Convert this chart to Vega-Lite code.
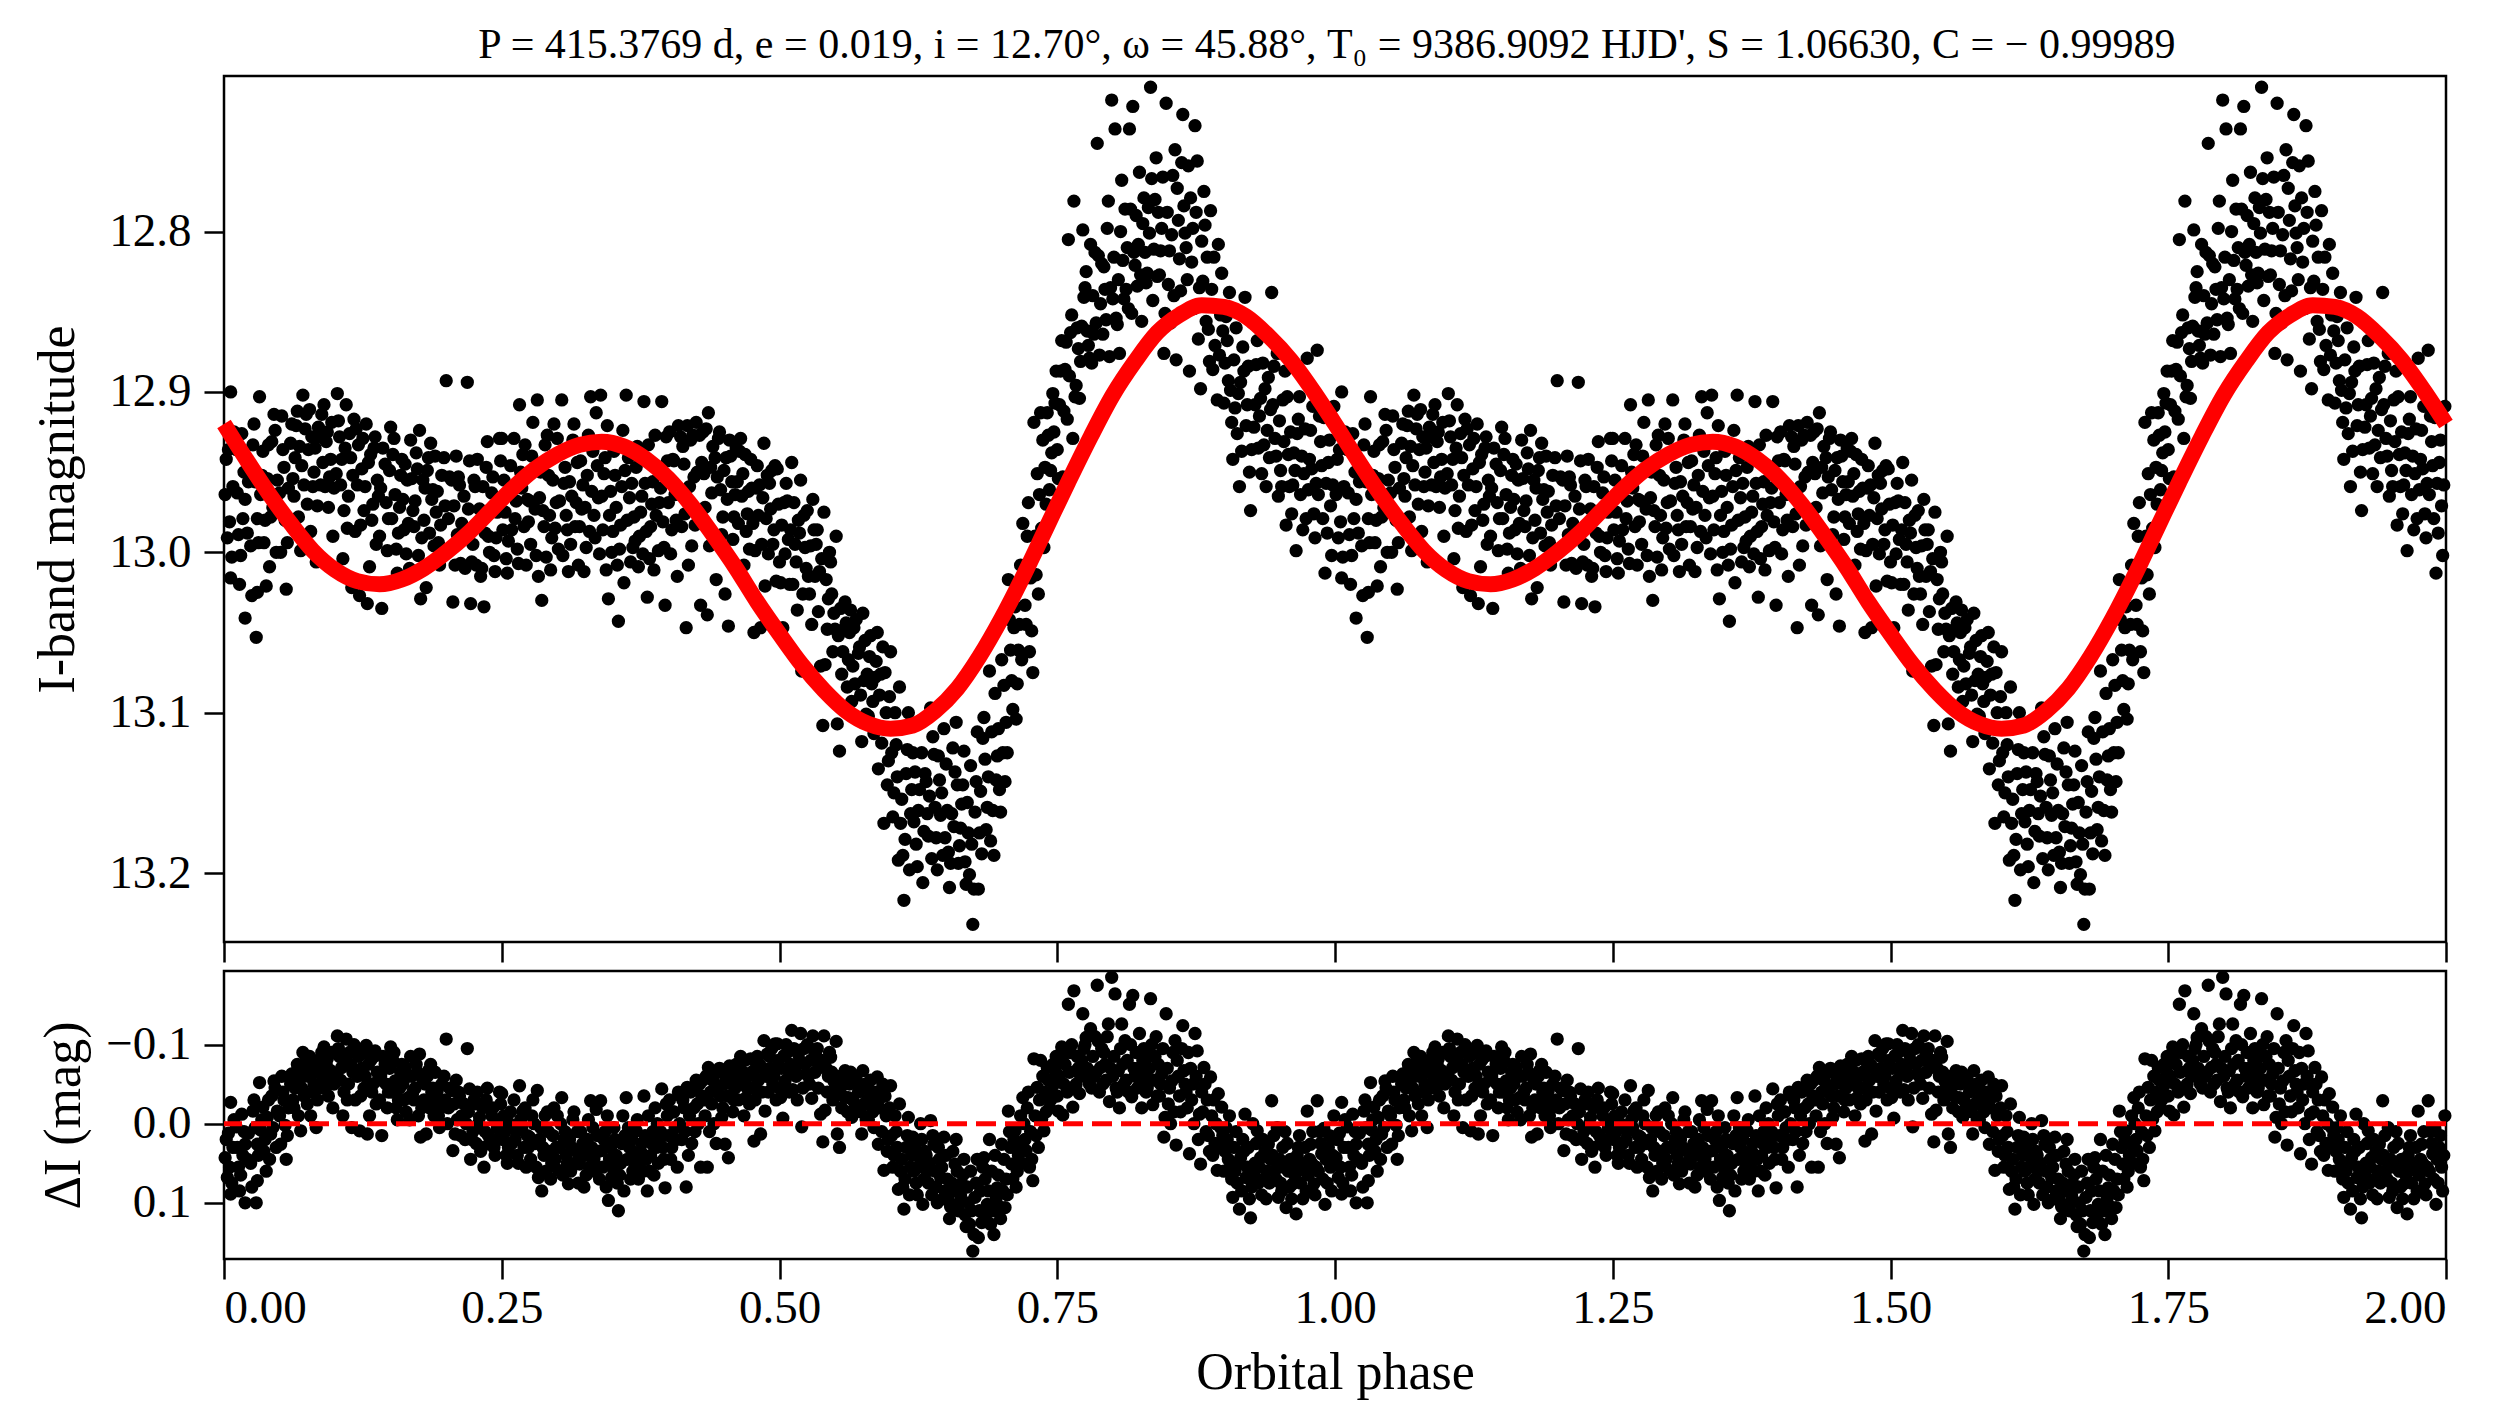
{
"$schema":"https://vega.github.io/schema/vega-lite/v6.json",
"background":"white",
"padding":{"left":30,"top":23,"right":5,"bottom":5},
"title":{"text":"P = 415.3769 d, e = 0.019, i = 12.70°, ω = 45.88°, T₀ = 9386.9092 HJD', S = 1.06630, C = − 0.99989","font":"Liberation Serif","fontSize":42,"fontWeight":"normal","color":"black","anchor":"middle","baseline":"alphabetic","offset":-25,"dx":72},
"config":{"font":"Liberation Serif","view":{"stroke":"black","strokeWidth":2.5},
"axis":{"domain":false,"grid":false,"ticks":true,"tickColor":"black","tickWidth":2.5,"tickSize":20,"labelFont":"Liberation Serif","labelFontSize":47,"labelColor":"black","labelPadding":13,"titleFont":"Liberation Serif","titleFontSize":52,"titleFontWeight":"normal","titleColor":"black"}},
"datasets":{
"model":[{"p":0,"m":12.920},{"p":0.02,"m":12.942},{"p":0.04,"m":12.963},{"p":0.06,"m":12.982},{"p":0.08,"m":12.999},{"p":0.10,"m":13.011},{"p":0.12,"m":13.018},{"p":0.14,"m":13.020},{"p":0.16,"m":13.017},{"p":0.18,"m":13.010},{"p":0.20,"m":13.000},{"p":0.22,"m":12.988},{"p":0.24,"m":12.974},{"p":0.26,"m":12.960},{"p":0.28,"m":12.948},{"p":0.30,"m":12.939},{"p":0.32,"m":12.933},{"p":0.34,"m":12.931},{"p":0.36,"m":12.934},{"p":0.38,"m":12.942},{"p":0.40,"m":12.954},{"p":0.42,"m":12.970},{"p":0.44,"m":12.989},{"p":0.46,"m":13.009},{"p":0.48,"m":13.031},{"p":0.50,"m":13.051},{"p":0.52,"m":13.070},{"p":0.54,"m":13.086},{"p":0.56,"m":13.099},{"p":0.58,"m":13.107},{"p":0.60,"m":13.110},{"p":0.62,"m":13.108},{"p":0.64,"m":13.099},{"p":0.66,"m":13.085},{"p":0.68,"m":13.065},{"p":0.70,"m":13.041},{"p":0.72,"m":13.014},{"p":0.74,"m":12.985},{"p":0.76,"m":12.956},{"p":0.78,"m":12.928},{"p":0.80,"m":12.902},{"p":0.82,"m":12.881},{"p":0.84,"m":12.863},{"p":0.86,"m":12.852},{"p":0.88,"m":12.846},{"p":0.90,"m":12.847},{"p":0.92,"m":12.853},{"p":0.94,"m":12.865},{"p":0.96,"m":12.880},{"p":0.98,"m":12.899},{"p":1.00,"m":12.920},{"p":1.02,"m":12.942},{"p":1.04,"m":12.963},{"p":1.06,"m":12.982},{"p":1.08,"m":12.999},{"p":1.10,"m":13.011},{"p":1.12,"m":13.018},{"p":1.14,"m":13.020},{"p":1.16,"m":13.017},{"p":1.18,"m":13.010},{"p":1.20,"m":13.000},{"p":1.22,"m":12.988},{"p":1.24,"m":12.974},{"p":1.26,"m":12.960},{"p":1.28,"m":12.948},{"p":1.30,"m":12.939},{"p":1.32,"m":12.933},{"p":1.34,"m":12.931},{"p":1.36,"m":12.934},{"p":1.38,"m":12.942},{"p":1.40,"m":12.954},{"p":1.42,"m":12.970},{"p":1.44,"m":12.989},{"p":1.46,"m":13.009},{"p":1.48,"m":13.031},{"p":1.50,"m":13.051},{"p":1.52,"m":13.070},{"p":1.54,"m":13.086},{"p":1.56,"m":13.099},{"p":1.58,"m":13.107},{"p":1.60,"m":13.110},{"p":1.62,"m":13.108},{"p":1.64,"m":13.099},{"p":1.66,"m":13.085},{"p":1.68,"m":13.065},{"p":1.70,"m":13.041},{"p":1.72,"m":13.014},{"p":1.74,"m":12.985},{"p":1.76,"m":12.956},{"p":1.78,"m":12.928},{"p":1.80,"m":12.902},{"p":1.82,"m":12.881},{"p":1.84,"m":12.863},{"p":1.86,"m":12.852},{"p":1.88,"m":12.846},{"p":1.90,"m":12.847},{"p":1.92,"m":12.853},{"p":1.94,"m":12.865},{"p":1.96,"m":12.880},{"p":1.98,"m":12.899},{"p":2.00,"m":12.920}],
"pts":[
{"p":0.001,"q":1.001,"m":12.964,"r":0.043},{"p":0.003,"q":1.003,"m":12.991,"r":0.068},{"p":0.006,"q":1.006,"m":12.900,"r":-0.027},{"p":0.006,"q":1.006,"m":13.016,"r":0.089},{"p":0.004,"q":1.004,"m":12.936,"r":0.012},{"p":0.008,"q":1.008,"m":12.959,"r":0.030},{"p":0.009,"q":1.009,"m":12.925,"r":-0.005},
{"p":0.013,"q":1.013,"m":12.989,"r":0.055},{"p":0.014,"q":1.014,"m":13.020,"r":0.085},{"p":0.019,"q":1.019,"m":13.041,"r":0.100},{"p":0.019,"q":1.019,"m":12.967,"r":0.026},{"p":0.011,"q":1.011,"m":12.936,"r":0.004},{"p":0.016,"q":1.016,"m":12.926,"r":-0.012},{"p":0.017,"q":1.017,"m":12.979,"r":0.040},
{"p":0.026,"q":1.026,"m":12.933,"r":-0.016},{"p":0.029,"q":1.029,"m":13.053,"r":0.100},{"p":0.030,"q":1.030,"m":12.979,"r":0.026},{"p":0.030,"q":1.030,"m":13.025,"r":0.072},{"p":0.022,"q":1.022,"m":12.956,"r":0.012},{"p":0.024,"q":1.024,"m":12.996,"r":0.050},{"p":0.027,"q":1.027,"m":12.920,"r":-0.030},
{"p":0.035,"q":1.035,"m":12.937,"r":-0.021},{"p":0.032,"q":1.032,"m":12.903,"r":-0.052},{"p":0.038,"q":1.038,"m":13.021,"r":0.060},{"p":0.033,"q":1.033,"m":12.964,"r":0.008},{"p":0.036,"q":1.036,"m":12.994,"r":0.035},{"p":0.039,"q":1.039,"m":12.954,"r":-0.008},
{"p":0.045,"q":1.045,"m":12.914,"r":-0.054},{"p":0.042,"q":1.042,"m":12.978,"r":0.013},{"p":0.048,"q":1.048,"m":12.955,"r":-0.016},{"p":0.043,"q":1.043,"m":12.931,"r":-0.035},{"p":0.047,"q":1.047,"m":13.000,"r":0.030},{"p":0.041,"q":1.041,"m":13.009,"r":0.045},
{"p":0.051,"q":1.051,"m":13.000,"r":0.026},{"p":0.056,"q":1.056,"m":13.023,"r":0.045},{"p":0.053,"q":1.053,"m":12.936,"r":-0.040},{"p":0.058,"q":1.058,"m":12.960,"r":-0.020},{"p":0.055,"q":1.055,"m":12.980,"r":0.002},{"p":0.052,"q":1.052,"m":12.915,"r":-0.060},
{"p":0.061,"q":1.061,"m":12.920,"r":-0.063},{"p":0.069,"q":1.069,"m":12.999,"r":0.009},{"p":0.064,"q":1.064,"m":12.941,"r":-0.045},{"p":0.066,"q":1.066,"m":12.912,"r":-0.075},{"p":0.063,"q":1.063,"m":12.965,"r":-0.020},{"p":0.068,"q":1.068,"m":12.934,"r":-0.055},
{"p":0.074,"q":1.074,"m":12.914,"r":-0.080},{"p":0.072,"q":1.072,"m":12.958,"r":-0.035},{"p":0.076,"q":1.076,"m":12.936,"r":-0.060},{"p":0.078,"q":1.078,"m":12.987,"r":-0.010},{"p":0.071,"q":1.071,"m":12.902,"r":-0.090},{"p":0.079,"q":1.079,"m":12.928,"r":-0.070},
{"p":0.083,"q":1.083,"m":13.006,"r":0.005},{"p":0.086,"q":1.086,"m":12.928,"r":-0.075},{"p":0.081,"q":1.081,"m":12.950,"r":-0.050},{"p":0.088,"q":1.088,"m":12.914,"r":-0.090},{"p":0.084,"q":1.084,"m":12.971,"r":-0.030},{"p":0.089,"q":1.089,"m":12.944,"r":-0.060},
{"p":0.090,"q":1.090,"m":12.908,"r":-0.097},{"p":0.091,"q":1.091,"m":12.959,"r":-0.046},{"p":0.096,"q":1.096,"m":12.942,"r":-0.067},{"p":0.093,"q":1.093,"m":12.925,"r":-0.082},{"p":0.098,"q":1.098,"m":12.990,"r":-0.020},{"p":0.095,"q":1.095,"m":12.953,"r":-0.055},
{"p":0.102,"q":1.102,"m":12.901,"r":-0.111},{"p":0.106,"q":1.106,"m":12.942,"r":-0.071},{"p":0.110,"q":1.110,"m":12.908,"r":-0.107},{"p":0.104,"q":1.104,"m":12.928,"r":-0.085},{"p":0.108,"q":1.108,"m":12.974,"r":-0.040},{"p":0.101,"q":1.101,"m":12.951,"r":-0.060},{"p":0.107,"q":1.107,"m":13.004,"r":-0.010},
{"p":0.113,"q":1.113,"m":12.926,"r":-0.090},{"p":0.116,"q":1.116,"m":12.952,"r":-0.065},{"p":0.118,"q":1.118,"m":12.987,"r":-0.030},{"p":0.112,"q":1.112,"m":12.965,"r":-0.050},{"p":0.119,"q":1.119,"m":12.923,"r":-0.095},{"p":0.115,"q":1.115,"m":13.022,"r":0.005},
{"p":0.122,"q":1.122,"m":13.027,"r":0.009},{"p":0.128,"q":1.128,"m":12.920,"r":-0.099},{"p":0.129,"q":1.129,"m":13.032,"r":0.013},{"p":0.124,"q":1.124,"m":12.948,"r":-0.070},{"p":0.126,"q":1.126,"m":12.974,"r":-0.045},{"p":0.121,"q":1.121,"m":12.933,"r":-0.085},
{"p":0.134,"q":1.134,"m":12.970,"r":-0.050},{"p":0.132,"q":1.132,"m":12.939,"r":-0.080},{"p":0.137,"q":1.137,"m":12.995,"r":-0.025},{"p":0.138,"q":1.138,"m":12.955,"r":-0.065},{"p":0.131,"q":1.131,"m":13.009,"r":-0.010},{"p":0.136,"q":1.136,"m":12.928,"r":-0.092},
{"p":0.142,"q":1.142,"m":13.035,"r":0.015},{"p":0.145,"q":1.145,"m":12.945,"r":-0.075},{"p":0.148,"q":1.148,"m":12.979,"r":-0.040},{"p":0.141,"q":1.141,"m":12.960,"r":-0.060},{"p":0.147,"q":1.147,"m":12.999,"r":-0.020},{"p":0.150,"q":1.150,"m":12.922,"r":-0.097},
{"p":0.154,"q":1.154,"m":12.964,"r":-0.054},{"p":0.152,"q":1.152,"m":12.939,"r":-0.080},{"p":0.157,"q":1.157,"m":12.988,"r":-0.030},{"p":0.159,"q":1.159,"m":12.952,"r":-0.065},{"p":0.156,"q":1.156,"m":13.013,"r":-0.005},
{"p":0.163,"q":1.163,"m":12.945,"r":-0.071},{"p":0.166,"q":1.166,"m":12.982,"r":-0.033},{"p":0.161,"q":1.161,"m":12.967,"r":-0.050},{"p":0.168,"q":1.168,"m":12.930,"r":-0.085},{"p":0.164,"q":1.164,"m":13.001,"r":-0.015},{"p":0.169,"q":1.169,"m":12.954,"r":-0.060},
{"p":0.176,"q":1.176,"m":12.924,"r":-0.088},{"p":0.177,"q":1.177,"m":13.029,"r":0.017},{"p":0.172,"q":1.172,"m":12.968,"r":-0.045},{"p":0.174,"q":1.174,"m":12.948,"r":-0.065},{"p":0.178,"q":1.178,"m":12.991,"r":-0.020},{"p":0.171,"q":1.171,"m":12.984,"r":-0.030},
{"p":0.182,"q":1.182,"m":13.022,"r":0.013},{"p":0.184,"q":1.184,"m":12.941,"r":-0.067},{"p":0.187,"q":1.187,"m":12.967,"r":-0.040},{"p":0.189,"q":1.189,"m":12.996,"r":-0.010},{"p":0.181,"q":1.181,"m":12.960,"r":-0.050},{"p":0.186,"q":1.186,"m":12.932,"r":-0.075},
{"p":0.192,"q":1.192,"m":12.962,"r":-0.042},{"p":0.195,"q":1.195,"m":12.983,"r":-0.020},{"p":0.198,"q":1.198,"m":12.941,"r":-0.060},{"p":0.194,"q":1.194,"m":13.008,"r":0.005},{"p":0.191,"q":1.191,"m":12.975,"r":-0.030},
{"p":0.200,"q":1.200,"m":12.893,"r":-0.107},{"p":0.205,"q":1.205,"m":12.955,"r":-0.042},{"p":0.206,"q":1.206,"m":13.031,"r":0.034},{"p":0.208,"q":1.208,"m":13.008,"r":0.013},{"p":0.202,"q":1.202,"m":12.979,"r":-0.020},{"p":0.209,"q":1.209,"m":12.940,"r":-0.055},
{"p":0.219,"q":1.219,"m":12.894,"r":-0.095},{"p":0.221,"q":1.221,"m":12.943,"r":-0.044},{"p":0.214,"q":1.214,"m":12.982,"r":-0.010},{"p":0.217,"q":1.217,"m":13.010,"r":0.020},{"p":0.212,"q":1.212,"m":12.958,"r":-0.035},{"p":0.218,"q":1.218,"m":12.989,"r":0.000},
{"p":0.222,"q":1.222,"m":13.032,"r":0.045},{"p":0.226,"q":1.226,"m":12.959,"r":-0.025},{"p":0.224,"q":1.224,"m":12.995,"r":0.010},{"p":0.228,"q":1.228,"m":12.942,"r":-0.040},{"p":0.227,"q":1.227,"m":13.008,"r":0.025},
{"p":0.234,"q":1.234,"m":13.034,"r":0.055},{"p":0.230,"q":1.230,"m":12.973,"r":-0.008},{"p":0.236,"q":1.236,"m":12.947,"r":-0.030},{"p":0.238,"q":1.238,"m":12.990,"r":0.015},{"p":0.232,"q":1.232,"m":13.010,"r":0.030},
{"p":0.242,"q":1.242,"m":12.953,"r":-0.020},{"p":0.245,"q":1.245,"m":12.991,"r":0.020},{"p":0.248,"q":1.248,"m":12.929,"r":-0.040},{"p":0.244,"q":1.244,"m":13.012,"r":0.040},{"p":0.247,"q":1.247,"m":12.970,"r":0.000},
{"p":0.250,"q":1.250,"m":12.929,"r":-0.038},{"p":0.253,"q":1.253,"m":12.975,"r":0.010},{"p":0.256,"q":1.256,"m":12.993,"r":0.030},{"p":0.258,"q":1.258,"m":12.946,"r":-0.015},{"p":0.255,"q":1.255,"m":13.013,"r":0.050},
{"p":0.266,"q":1.266,"m":12.908,"r":-0.048},{"p":0.269,"q":1.269,"m":12.939,"r":-0.016},{"p":0.262,"q":1.262,"m":12.979,"r":0.020},{"p":0.264,"q":1.264,"m":12.998,"r":0.040},{"p":0.268,"q":1.268,"m":12.960,"r":0.005},
{"p":0.275,"q":1.275,"m":12.968,"r":0.017},{"p":0.272,"q":1.272,"m":13.008,"r":0.055},{"p":0.278,"q":1.278,"m":12.919,"r":-0.030},{"p":0.274,"q":1.274,"m":12.981,"r":0.030},{"p":0.279,"q":1.279,"m":12.949,"r":0.000},
{"p":0.282,"q":1.282,"m":12.905,"r":-0.042},{"p":0.283,"q":1.283,"m":13.015,"r":0.068},{"p":0.286,"q":1.286,"m":13.030,"r":0.085},{"p":0.284,"q":1.284,"m":12.966,"r":0.020},{"p":0.288,"q":1.288,"m":12.984,"r":0.040},{"p":0.289,"q":1.289,"m":12.933,"r":-0.010},
{"p":0.292,"q":1.292,"m":12.952,"r":0.010},{"p":0.295,"q":1.295,"m":12.991,"r":0.050},{"p":0.297,"q":1.297,"m":12.920,"r":-0.020},{"p":0.299,"q":1.299,"m":12.969,"r":0.030},
{"p":0.301,"q":1.301,"m":12.998,"r":0.059},{"p":0.304,"q":1.304,"m":12.905,"r":-0.033},{"p":0.306,"q":1.306,"m":12.957,"r":0.020},{"p":0.308,"q":1.308,"m":12.977,"r":0.040},{"p":0.303,"q":1.303,"m":12.938,"r":0.000},
{"p":0.310,"q":1.310,"m":13.012,"r":0.076},{"p":0.313,"q":1.313,"m":12.965,"r":0.030},{"p":0.316,"q":1.316,"m":12.984,"r":0.050},{"p":0.318,"q":1.318,"m":12.944,"r":0.010},{"p":0.315,"q":1.315,"m":12.920,"r":-0.015},
{"p":0.320,"q":1.320,"m":12.984,"r":0.051},{"p":0.323,"q":1.323,"m":12.958,"r":0.025},{"p":0.326,"q":1.326,"m":12.997,"r":0.065},{"p":0.328,"q":1.328,"m":12.927,"r":-0.005},{"p":0.325,"q":1.325,"m":12.972,"r":0.040},
{"p":0.330,"q":1.330,"m":12.903,"r":-0.029},{"p":0.333,"q":1.333,"m":12.977,"r":0.045},{"p":0.336,"q":1.336,"m":12.946,"r":0.015},{"p":0.338,"q":1.338,"m":13.001,"r":0.070},{"p":0.335,"q":1.335,"m":12.913,"r":-0.018},
{"p":0.339,"q":1.339,"m":12.902,"r":-0.029},{"p":0.340,"q":1.340,"m":12.965,"r":0.034},{"p":0.346,"q":1.346,"m":13.029,"r":0.097},{"p":0.349,"q":1.349,"m":13.000,"r":0.068},{"p":0.343,"q":1.343,"m":12.941,"r":0.010},{"p":0.347,"q":1.347,"m":12.977,"r":0.045},
{"p":0.355,"q":1.355,"m":13.043,"r":0.110},{"p":0.352,"q":1.352,"m":12.952,"r":0.020},{"p":0.357,"q":1.357,"m":12.983,"r":0.050},{"p":0.359,"q":1.359,"m":12.924,"r":-0.010},{"p":0.354,"q":1.354,"m":13.008,"r":0.075},
{"p":0.362,"q":1.362,"m":12.902,"r":-0.033},{"p":0.365,"q":1.365,"m":12.966,"r":0.030},{"p":0.368,"q":1.368,"m":12.997,"r":0.060},{"p":0.364,"q":1.364,"m":12.941,"r":0.005},{"p":0.369,"q":1.369,"m":12.978,"r":0.040},
{"p":0.371,"q":1.371,"m":12.947,"r":0.009},{"p":0.378,"q":1.378,"m":12.906,"r":-0.035},{"p":0.374,"q":1.374,"m":12.990,"r":0.050},{"p":0.376,"q":1.376,"m":12.965,"r":0.025},{"p":0.373,"q":1.373,"m":13.009,"r":0.070},
{"p":0.381,"q":1.381,"m":13.028,"r":0.085},{"p":0.384,"q":1.384,"m":12.984,"r":0.040},{"p":0.386,"q":1.386,"m":12.956,"r":0.010},{"p":0.388,"q":1.388,"m":12.927,"r":-0.020},{"p":0.383,"q":1.383,"m":13.004,"r":0.060},
{"p":0.394,"q":1.394,"m":12.906,"r":-0.044},{"p":0.397,"q":1.397,"m":13.033,"r":0.081},{"p":0.392,"q":1.392,"m":12.969,"r":0.020},{"p":0.396,"q":1.396,"m":12.997,"r":0.045},{"p":0.399,"q":1.399,"m":12.943,"r":-0.010},
{"p":0.403,"q":1.403,"m":12.986,"r":0.030},{"p":0.401,"q":1.401,"m":12.925,"r":-0.030},{"p":0.406,"q":1.406,"m":12.964,"r":0.005},{"p":0.408,"q":1.408,"m":13.015,"r":0.055},{"p":0.405,"q":1.405,"m":12.943,"r":-0.015},
{"p":0.416,"q":1.416,"m":13.047,"r":0.080},{"p":0.417,"q":1.417,"m":12.921,"r":-0.046},{"p":0.412,"q":1.412,"m":12.984,"r":0.020},{"p":0.414,"q":1.414,"m":12.945,"r":-0.020},{"p":0.418,"q":1.418,"m":13.008,"r":0.040},{"p":0.411,"q":1.411,"m":12.928,"r":-0.035},
{"p":0.426,"q":1.426,"m":12.950,"r":-0.025},{"p":0.429,"q":1.429,"m":13.033,"r":0.055},{"p":0.422,"q":1.422,"m":12.927,"r":-0.045},{"p":0.424,"q":1.424,"m":12.983,"r":0.010},{"p":0.428,"q":1.428,"m":12.927,"r":-0.050},
{"p":0.435,"q":1.435,"m":13.039,"r":0.055},{"p":0.436,"q":1.436,"m":12.913,"r":-0.071},{"p":0.432,"q":1.432,"m":12.951,"r":-0.030},{"p":0.438,"q":1.438,"m":12.947,"r":-0.040},{"p":0.437,"q":1.437,"m":12.996,"r":0.010},{"p":0.431,"q":1.431,"m":12.925,"r":-0.055},
{"p":0.448,"q":1.448,"m":12.989,"r":-0.008},{"p":0.442,"q":1.442,"m":12.941,"r":-0.050},{"p":0.445,"q":1.445,"m":12.929,"r":-0.065},{"p":0.447,"q":1.447,"m":12.961,"r":-0.035},{"p":0.443,"q":1.443,"m":13.017,"r":0.025},
{"p":0.454,"q":1.454,"m":13.046,"r":0.043},{"p":0.451,"q":1.451,"m":13.026,"r":0.026},{"p":0.455,"q":1.455,"m":12.930,"r":-0.073},{"p":0.457,"q":1.457,"m":12.956,"r":-0.050},{"p":0.459,"q":1.459,"m":12.978,"r":-0.030},{"p":0.452,"q":1.452,"m":12.941,"r":-0.060},
{"p":0.464,"q":1.464,"m":12.937,"r":-0.076},{"p":0.470,"q":1.470,"m":12.987,"r":-0.033},{"p":0.462,"q":1.462,"m":12.956,"r":-0.055},{"p":0.467,"q":1.467,"m":12.951,"r":-0.065},{"p":0.468,"q":1.468,"m":13.008,"r":-0.010},{"p":0.465,"q":1.465,"m":12.929,"r":-0.085},
{"p":0.474,"q":1.474,"m":12.942,"r":-0.082},{"p":0.477,"q":1.477,"m":13.050,"r":0.022},{"p":0.472,"q":1.472,"m":12.962,"r":-0.060},{"p":0.476,"q":1.476,"m":12.982,"r":-0.045},{"p":0.479,"q":1.479,"m":12.960,"r":-0.070},{"p":0.473,"q":1.473,"m":12.998,"r":-0.025},
{"p":0.483,"q":1.483,"m":13.047,"r":0.013},{"p":0.486,"q":1.486,"m":12.932,"r":-0.105},{"p":0.487,"q":1.487,"m":13.021,"r":-0.016},{"p":0.482,"q":1.482,"m":12.958,"r":-0.075},{"p":0.488,"q":1.488,"m":12.979,"r":-0.060},{"p":0.489,"q":1.489,"m":12.952,"r":-0.088},{"p":0.484,"q":1.484,"m":12.995,"r":-0.040},
{"p":0.496,"q":1.496,"m":12.946,"r":-0.101},{"p":0.498,"q":1.498,"m":12.948,"r":-0.101},{"p":0.492,"q":1.492,"m":12.973,"r":-0.070},{"p":0.494,"q":1.494,"m":12.995,"r":-0.050},{"p":0.491,"q":1.491,"m":12.957,"r":-0.085},{"p":0.497,"q":1.497,"m":13.018,"r":-0.030},
{"p":0.501,"q":1.501,"m":13.019,"r":-0.033},{"p":0.504,"q":1.504,"m":12.969,"r":-0.086},{"p":0.505,"q":1.505,"m":13.001,"r":-0.054},{"p":0.503,"q":1.503,"m":13.047,"r":-0.007},{"p":0.508,"q":1.508,"m":12.992,"r":-0.067},{"p":0.506,"q":1.506,"m":12.957,"r":-0.100},
{"p":0.511,"q":1.511,"m":12.944,"r":-0.118},{"p":0.512,"q":1.512,"m":13.020,"r":-0.043},{"p":0.517,"q":1.517,"m":12.980,"r":-0.088},{"p":0.519,"q":1.519,"m":12.955,"r":-0.114},{"p":0.520,"q":1.520,"m":13.074,"r":0.004},{"p":0.514,"q":1.514,"m":12.995,"r":-0.070},
{"p":0.524,"q":1.524,"m":13.010,"r":-0.063},{"p":0.530,"q":1.530,"m":12.967,"r":-0.111},{"p":0.531,"q":1.531,"m":12.986,"r":-0.093},{"p":0.529,"q":1.529,"m":13.045,"r":-0.032},{"p":0.522,"q":1.522,"m":12.977,"r":-0.095},{"p":0.527,"q":1.527,"m":13.026,"r":-0.050},
{"p":0.536,"q":1.536,"m":13.012,"r":-0.071},{"p":0.537,"q":1.537,"m":13.071,"r":-0.012},{"p":0.540,"q":1.540,"m":12.975,"r":-0.111},{"p":0.541,"q":1.541,"m":13.070,"r":-0.017},{"p":0.539,"q":1.539,"m":13.108,"r":0.023},{"p":0.533,"q":1.533,"m":12.995,"r":-0.085},
{"p":0.546,"q":1.546,"m":13.006,"r":-0.084},{"p":0.549,"q":1.549,"m":13.038,"r":-0.054},{"p":0.551,"q":1.551,"m":12.990,"r":-0.104},{"p":0.544,"q":1.544,"m":13.029,"r":-0.060},{"p":0.548,"q":1.548,"m":13.062,"r":-0.030},
{"p":0.553,"q":1.553,"m":13.052,"r":-0.043},{"p":0.552,"q":1.552,"m":13.107,"r":0.013},{"p":0.554,"q":1.554,"m":13.124,"r":0.030},{"p":0.559,"q":1.559,"m":13.031,"r":-0.067},{"p":0.556,"q":1.556,"m":13.076,"r":-0.020},{"p":0.558,"q":1.558,"m":13.048,"r":-0.050},
{"p":0.562,"q":1.562,"m":13.067,"r":-0.033},{"p":0.565,"q":1.565,"m":13.093,"r":-0.008},{"p":0.567,"q":1.567,"m":13.047,"r":-0.055},{"p":0.564,"q":1.564,"m":13.036,"r":-0.065},{"p":0.568,"q":1.568,"m":13.082,"r":-0.020},
{"p":0.575,"q":1.575,"m":13.038,"r":-0.067},{"p":0.576,"q":1.576,"m":13.080,"r":-0.025},{"p":0.574,"q":1.574,"m":13.118,"r":0.013},{"p":0.572,"q":1.572,"m":13.059,"r":-0.045},{"p":0.578,"q":1.578,"m":13.101,"r":-0.005},
{"p":0.581,"q":1.581,"m":13.065,"r":-0.042},{"p":0.588,"q":1.588,"m":13.050,"r":-0.059},{"p":0.589,"q":1.589,"m":13.135,"r":0.026},{"p":0.584,"q":1.584,"m":13.093,"r":-0.015},{"p":0.586,"q":1.586,"m":13.078,"r":-0.030},
{"p":0.591,"q":1.591,"m":13.076,"r":-0.033},{"p":0.594,"q":1.594,"m":13.169,"r":0.059},{"p":0.596,"q":1.596,"m":13.100,"r":-0.010},{"p":0.598,"q":1.598,"m":13.130,"r":0.020},{"p":0.593,"q":1.593,"m":13.059,"r":-0.050},
{"p":0.600,"q":1.600,"m":13.062,"r":-0.048},{"p":0.607,"q":1.607,"m":13.192,"r":0.083},{"p":0.608,"q":1.608,"m":13.084,"r":-0.025},{"p":0.603,"q":1.603,"m":13.150,"r":0.040},{"p":0.605,"q":1.605,"m":13.120,"r":0.010},{"p":0.609,"q":1.609,"m":13.169,"r":0.060},
{"p":0.612,"q":1.612,"m":13.217,"r":0.108},{"p":0.616,"q":1.616,"m":13.100,"r":-0.008},{"p":0.614,"q":1.614,"m":13.138,"r":0.030},{"p":0.618,"q":1.618,"m":13.163,"r":0.055},{"p":0.611,"q":1.611,"m":13.189,"r":0.080},
{"p":0.620,"q":1.620,"m":13.125,"r":0.017},{"p":0.626,"q":1.626,"m":13.148,"r":0.043},{"p":0.629,"q":1.629,"m":13.206,"r":0.102},{"p":0.623,"q":1.623,"m":13.182,"r":0.075},{"p":0.627,"q":1.627,"m":13.105,"r":0.000},
{"p":0.636,"q":1.636,"m":13.097,"r":-0.004},{"p":0.639,"q":1.639,"m":13.126,"r":0.026},{"p":0.633,"q":1.633,"m":13.163,"r":0.060},{"p":0.637,"q":1.637,"m":13.191,"r":0.090},{"p":0.632,"q":1.632,"m":13.143,"r":0.040},
{"p":0.645,"q":1.645,"m":13.164,"r":0.068},{"p":0.648,"q":1.648,"m":13.110,"r":0.017},{"p":0.642,"q":1.642,"m":13.198,"r":0.100},{"p":0.644,"q":1.644,"m":13.142,"r":0.045},{"p":0.649,"q":1.649,"m":13.178,"r":0.085},
{"p":0.652,"q":1.652,"m":13.187,"r":0.097},{"p":0.658,"q":1.658,"m":13.137,"r":0.051},{"p":0.655,"q":1.655,"m":13.163,"r":0.075},{"p":0.653,"q":1.653,"m":13.209,"r":0.120},{"p":0.659,"q":1.659,"m":13.106,"r":0.020},
{"p":0.661,"q":1.661,"m":13.194,"r":0.110},{"p":0.664,"q":1.664,"m":13.157,"r":0.076},{"p":0.668,"q":1.668,"m":13.207,"r":0.130},{"p":0.666,"q":1.666,"m":13.124,"r":0.045},{"p":0.663,"q":1.663,"m":13.172,"r":0.090},
{"p":0.671,"q":1.671,"m":13.201,"r":0.127},{"p":0.674,"q":1.674,"m":13.232,"r":0.161},{"p":0.676,"q":1.676,"m":13.162,"r":0.093},{"p":0.679,"q":1.679,"m":13.210,"r":0.144},{"p":0.678,"q":1.678,"m":13.112,"r":0.045},{"p":0.673,"q":1.673,"m":13.182,"r":0.110},
{"p":0.684,"q":1.684,"m":13.103,"r":0.043},{"p":0.687,"q":1.687,"m":13.159,"r":0.102},{"p":0.682,"q":1.682,"m":13.188,"r":0.125},{"p":0.685,"q":1.685,"m":13.129,"r":0.070},{"p":0.689,"q":1.689,"m":13.074,"r":0.020},
{"p":0.690,"q":1.690,"m":13.180,"r":0.127},{"p":0.693,"q":1.693,"m":13.189,"r":0.140},{"p":0.696,"q":1.696,"m":13.127,"r":0.081},{"p":0.694,"q":1.694,"m":13.088,"r":0.040},{"p":0.698,"q":1.698,"m":13.148,"r":0.105},
{"p":0.700,"q":1.700,"m":13.067,"r":0.026},{"p":0.703,"q":1.703,"m":13.143,"r":0.106},{"p":0.706,"q":1.706,"m":13.017,"r":-0.016},{"p":0.709,"q":1.709,"m":13.080,"r":0.051},{"p":0.704,"q":1.704,"m":13.106,"r":0.070},{"p":0.707,"q":1.707,"m":13.042,"r":0.010},
{"p":0.712,"q":1.712,"m":13.034,"r":0.009},{"p":0.719,"q":1.719,"m":12.982,"r":-0.033},{"p":0.715,"q":1.715,"m":13.061,"r":0.040},{"p":0.717,"q":1.717,"m":13.008,"r":-0.010},{"p":0.714,"q":1.714,"m":13.082,"r":0.060},
{"p":0.722,"q":1.722,"m":13.045,"r":0.034},{"p":0.725,"q":1.725,"m":13.062,"r":0.055},{"p":0.728,"q":1.728,"m":13.075,"r":0.072},{"p":0.729,"q":1.729,"m":12.919,"r":-0.082},{"p":0.724,"q":1.724,"m":12.969,"r":-0.040},{"p":0.726,"q":1.726,"m":13.016,"r":0.010},
{"p":0.732,"q":1.732,"m":12.951,"r":-0.046},{"p":0.735,"q":1.735,"m":12.913,"r":-0.080},{"p":0.736,"q":1.736,"m":12.985,"r":-0.006},{"p":0.738,"q":1.738,"m":12.997,"r":0.009},{"p":0.737,"q":1.737,"m":12.930,"r":-0.060},{"p":0.733,"q":1.733,"m":13.026,"r":0.030},
{"p":0.741,"q":1.741,"m":12.913,"r":-0.071},{"p":0.748,"q":1.748,"m":12.907,"r":-0.067},{"p":0.745,"q":1.745,"m":12.938,"r":-0.040},{"p":0.743,"q":1.743,"m":12.961,"r":-0.020},{"p":0.749,"q":1.749,"m":12.887,"r":-0.085},
{"p":0.751,"q":1.751,"m":12.954,"r":-0.016},{"p":0.754,"q":1.754,"m":12.868,"r":-0.097},{"p":0.755,"q":1.755,"m":12.953,"r":-0.011},{"p":0.752,"q":1.752,"m":12.908,"r":-0.060},{"p":0.757,"q":1.757,"m":12.886,"r":-0.075},{"p":0.759,"q":1.759,"m":12.917,"r":-0.040},
{"p":0.760,"q":1.760,"m":12.805,"r":-0.151},{"p":0.765,"q":1.765,"m":12.781,"r":-0.168},{"p":0.764,"q":1.764,"m":12.929,"r":-0.021},{"p":0.767,"q":1.767,"m":12.896,"r":-0.050},{"p":0.762,"q":1.762,"m":12.863,"r":-0.090},{"p":0.769,"q":1.769,"m":12.873,"r":-0.070},
{"p":0.770,"q":1.770,"m":12.904,"r":-0.038},{"p":0.773,"q":1.773,"m":12.799,"r":-0.139},{"p":0.776,"q":1.776,"m":12.825,"r":-0.109},{"p":0.772,"q":1.772,"m":12.859,"r":-0.080},{"p":0.778,"q":1.778,"m":12.871,"r":-0.060},{"p":0.775,"q":1.775,"m":12.835,"r":-0.100},
{"p":0.780,"q":1.780,"m":12.808,"r":-0.120},{"p":0.781,"q":1.781,"m":12.882,"r":-0.045},{"p":0.786,"q":1.786,"m":12.745,"r":-0.175},{"p":0.787,"q":1.787,"m":12.815,"r":-0.104},{"p":0.789,"q":1.789,"m":12.845,"r":-0.071},{"p":0.783,"q":1.783,"m":12.864,"r":-0.060},{"p":0.788,"q":1.788,"m":12.877,"r":-0.040},
{"p":0.796,"q":1.796,"m":12.781,"r":-0.126},{"p":0.797,"q":1.797,"m":12.878,"r":-0.028},{"p":0.799,"q":1.799,"m":12.718,"r":-0.185},{"p":0.792,"q":1.792,"m":12.822,"r":-0.090},{"p":0.794,"q":1.794,"m":12.855,"r":-0.055},{"p":0.798,"q":1.798,"m":12.835,"r":-0.070},
{"p":0.802,"q":1.802,"m":12.736,"r":-0.164},{"p":0.805,"q":1.805,"m":12.830,"r":-0.067},{"p":0.806,"q":1.806,"m":12.876,"r":-0.020},{"p":0.808,"q":1.808,"m":12.768,"r":-0.126},{"p":0.803,"q":1.803,"m":12.854,"r":-0.045},{"p":0.807,"q":1.807,"m":12.800,"r":-0.095},
{"p":0.815,"q":1.815,"m":12.736,"r":-0.151},{"p":0.818,"q":1.818,"m":12.722,"r":-0.162},{"p":0.819,"q":1.819,"m":12.813,"r":-0.070},{"p":0.817,"q":1.817,"m":12.851,"r":-0.034},{"p":0.812,"q":1.812,"m":12.836,"r":-0.055},{"p":0.816,"q":1.816,"m":12.786,"r":-0.100},
{"p":0.824,"q":1.824,"m":12.763,"r":-0.114},{"p":0.822,"q":1.822,"m":12.834,"r":-0.045},{"p":0.827,"q":1.827,"m":12.795,"r":-0.080},{"p":0.826,"q":1.826,"m":12.856,"r":-0.020},{"p":0.829,"q":1.829,"m":12.813,"r":-0.060},
{"p":0.834,"q":1.834,"m":12.710,"r":-0.158},{"p":0.835,"q":1.835,"m":12.767,"r":-0.100},{"p":0.833,"q":1.833,"m":12.801,"r":-0.070},{"p":0.836,"q":1.836,"m":12.843,"r":-0.024},{"p":0.838,"q":1.838,"m":12.780,"r":-0.085},{"p":0.831,"q":1.831,"m":12.826,"r":-0.045},
{"p":0.844,"q":1.844,"m":12.798,"r":-0.063},{"p":0.848,"q":1.848,"m":12.720,"r":-0.139},{"p":0.847,"q":1.847,"m":12.851,"r":-0.008},{"p":0.846,"q":1.846,"m":12.876,"r":0.017},{"p":0.842,"q":1.842,"m":12.827,"r":-0.035},{"p":0.845,"q":1.845,"m":12.766,"r":-0.095},
{"p":0.850,"q":1.850,"m":12.833,"r":-0.025},{"p":0.853,"q":1.853,"m":12.802,"r":-0.054},{"p":0.856,"q":1.856,"m":12.749,"r":-0.105},{"p":0.857,"q":1.857,"m":12.880,"r":0.027},{"p":0.858,"q":1.858,"m":12.773,"r":-0.080},{"p":0.852,"q":1.852,"m":12.857,"r":0.000},
{"p":0.863,"q":1.863,"m":12.727,"r":-0.124},{"p":0.864,"q":1.864,"m":12.784,"r":-0.067},{"p":0.869,"q":1.869,"m":12.887,"r":0.038},{"p":0.866,"q":1.866,"m":12.810,"r":-0.040},{"p":0.861,"q":1.861,"m":12.837,"r":-0.015},{"p":0.868,"q":1.868,"m":12.759,"r":-0.090},
{"p":0.874,"q":1.874,"m":12.734,"r":-0.114},{"p":0.876,"q":1.876,"m":12.756,"r":-0.092},{"p":0.879,"q":1.879,"m":12.898,"r":0.051},{"p":0.878,"q":1.878,"m":12.835,"r":-0.012},{"p":0.872,"q":1.872,"m":12.798,"r":-0.050},{"p":0.877,"q":1.877,"m":12.867,"r":0.020},
{"p":0.882,"q":1.882,"m":12.775,"r":-0.071},{"p":0.888,"q":1.888,"m":12.787,"r":-0.059},{"p":0.885,"q":1.885,"m":12.816,"r":-0.030},{"p":0.884,"q":1.884,"m":12.856,"r":0.010},{"p":0.887,"q":1.887,"m":12.881,"r":0.035},
{"p":0.895,"q":1.895,"m":12.808,"r":-0.038},{"p":0.894,"q":1.894,"m":12.905,"r":0.059},{"p":0.898,"q":1.898,"m":12.826,"r":-0.021},{"p":0.892,"q":1.892,"m":12.871,"r":0.025},{"p":0.897,"q":1.897,"m":12.852,"r":0.005},
{"p":0.908,"q":1.908,"m":12.942,"r":0.093},{"p":0.903,"q":1.903,"m":12.868,"r":0.020},{"p":0.905,"q":1.905,"m":12.838,"r":-0.010},{"p":0.906,"q":1.906,"m":12.899,"r":0.050},{"p":0.901,"q":1.901,"m":12.882,"r":0.035},
{"p":0.914,"q":1.914,"m":12.959,"r":0.108},{"p":0.915,"q":1.915,"m":12.894,"r":0.043},{"p":0.920,"q":1.920,"m":12.921,"r":0.068},{"p":0.919,"q":1.919,"m":12.841,"r":-0.012},{"p":0.917,"q":1.917,"m":12.872,"r":0.020},{"p":0.912,"q":1.912,"m":12.926,"r":0.075},
{"p":0.924,"q":1.924,"m":12.974,"r":0.119},{"p":0.925,"q":1.925,"m":12.936,"r":0.080},{"p":0.928,"q":1.928,"m":12.908,"r":0.050},{"p":0.926,"q":1.926,"m":12.857,"r":0.000},{"p":0.922,"q":1.922,"m":12.884,"r":0.030},
{"p":0.930,"q":1.930,"m":12.868,"r":0.009},{"p":0.933,"q":1.933,"m":12.904,"r":0.043},{"p":0.936,"q":1.936,"m":12.933,"r":0.070},{"p":0.938,"q":1.938,"m":12.959,"r":0.095},{"p":0.935,"q":1.935,"m":12.882,"r":0.020},
{"p":0.943,"q":1.943,"m":12.838,"r":-0.029},{"p":0.940,"q":1.940,"m":12.891,"r":0.026},{"p":0.946,"q":1.946,"m":12.929,"r":0.059},{"p":0.949,"q":1.949,"m":12.965,"r":0.093},{"p":0.944,"q":1.944,"m":12.908,"r":0.040},{"p":0.948,"q":1.948,"m":12.876,"r":0.005},
{"p":0.956,"q":1.956,"m":12.983,"r":0.106},{"p":0.953,"q":1.953,"m":12.905,"r":0.030},{"p":0.958,"q":1.958,"m":12.939,"r":0.060},{"p":0.951,"q":1.951,"m":12.949,"r":0.075},{"p":0.955,"q":1.955,"m":12.887,"r":0.010},
{"p":0.965,"q":1.965,"m":12.999,"r":0.114},{"p":0.962,"q":1.962,"m":12.958,"r":0.076},{"p":0.966,"q":1.966,"m":12.926,"r":0.040},{"p":0.968,"q":1.968,"m":12.903,"r":0.015},{"p":0.963,"q":1.963,"m":12.938,"r":0.055},
{"p":0.972,"q":1.972,"m":12.951,"r":0.059},{"p":0.975,"q":1.975,"m":12.879,"r":-0.016},{"p":0.978,"q":1.978,"m":12.924,"r":0.026},{"p":0.974,"q":1.974,"m":12.979,"r":0.085},{"p":0.977,"q":1.977,"m":12.942,"r":0.045},
{"p":0.981,"q":1.981,"m":12.976,"r":0.076},{"p":0.984,"q":1.984,"m":12.874,"r":-0.029},{"p":0.988,"q":1.988,"m":12.946,"r":0.038},{"p":0.986,"q":1.986,"m":12.915,"r":0.010},{"p":0.983,"q":1.983,"m":12.957,"r":0.055},
{"p":0.990,"q":1.990,"m":12.916,"r":0.006},{"p":0.991,"q":1.991,"m":13.013,"r":0.102},{"p":0.997,"q":1.997,"m":13.002,"r":0.085},{"p":0.994,"q":1.994,"m":12.944,"r":0.030},{"p":0.996,"q":1.996,"m":12.971,"r":0.055},{"p":0.999,"q":1.999,"m":12.909,"r":-0.010},
{"p":0.002,"q":1.002,"m":12.942,"r":0.020},{"p":0.005,"q":1.005,"m":12.981,"r":0.055},{"p":0.007,"q":1.007,"m":13.003,"r":0.075},{"p":0.012,"q":1.012,"m":12.963,"r":0.030},{"p":0.015,"q":1.015,"m":13.002,"r":0.065},{"p":0.018,"q":1.018,"m":12.950,"r":0.010},{"p":0.021,"q":1.021,"m":12.988,"r":0.045},{"p":0.025,"q":1.025,"m":13.027,"r":0.080},{"p":0.028,"q":1.028,"m":12.956,"r":0.005},{"p":0.031,"q":1.031,"m":12.994,"r":0.040},
{"p":0.034,"q":1.034,"m":12.952,"r":-0.005},{"p":0.037,"q":1.037,"m":12.980,"r":0.020},{"p":0.040,"q":1.040,"m":12.933,"r":-0.030},{"p":0.044,"q":1.044,"m":12.972,"r":0.005},{"p":0.046,"q":1.046,"m":12.924,"r":-0.045},{"p":0.050,"q":1.050,"m":12.963,"r":-0.010},{"p":0.054,"q":1.054,"m":12.947,"r":-0.030},{"p":0.057,"q":1.057,"m":12.994,"r":0.015},{"p":0.060,"q":1.060,"m":12.932,"r":-0.050},{"p":0.062,"q":1.062,"m":12.954,"r":-0.030},
{"p":0.065,"q":1.065,"m":12.921,"r":-0.065},{"p":0.067,"q":1.067,"m":12.978,"r":-0.010},{"p":0.070,"q":1.070,"m":12.946,"r":-0.045},{"p":0.073,"q":1.073,"m":12.923,"r":-0.070},{"p":0.075,"q":1.075,"m":12.970,"r":-0.025},{"p":0.077,"q":1.077,"m":12.911,"r":-0.085},{"p":0.080,"q":1.080,"m":12.959,"r":-0.040},{"p":0.082,"q":1.082,"m":12.935,"r":-0.065},{"p":0.085,"q":1.085,"m":12.922,"r":-0.080},{"p":0.087,"q":1.087,"m":12.958,"r":-0.045},
{"p":0.092,"q":1.092,"m":12.931,"r":-0.075},{"p":0.094,"q":1.094,"m":12.972,"r":-0.035},{"p":0.097,"q":1.097,"m":12.919,"r":-0.090},{"p":0.099,"q":1.099,"m":12.960,"r":-0.050},{"p":0.103,"q":1.103,"m":12.918,"r":-0.095},{"p":0.105,"q":1.105,"m":12.958,"r":-0.055},{"p":0.109,"q":1.109,"m":12.935,"r":-0.080},{"p":0.111,"q":1.111,"m":12.985,"r":-0.030},{"p":0.114,"q":1.114,"m":12.941,"r":-0.075},{"p":0.117,"q":1.117,"m":12.917,"r":-0.100},
{"p":0.120,"q":1.120,"m":12.958,"r":-0.060},{"p":0.123,"q":1.123,"m":12.983,"r":-0.035},{"p":0.125,"q":1.125,"m":12.929,"r":-0.090},{"p":0.127,"q":1.127,"m":12.959,"r":-0.060},{"p":0.130,"q":1.130,"m":12.944,"r":-0.075},{"p":0.133,"q":1.133,"m":12.980,"r":-0.040},{"p":0.135,"q":1.135,"m":12.935,"r":-0.085},{"p":0.139,"q":1.139,"m":12.965,"r":-0.055},{"p":0.140,"q":1.140,"m":12.990,"r":-0.030},{"p":0.143,"q":1.143,"m":12.935,"r":-0.085},
{"p":0.146,"q":1.146,"m":12.969,"r":-0.050},{"p":0.149,"q":1.149,"m":12.949,"r":-0.070},{"p":0.151,"q":1.151,"m":12.979,"r":-0.040},{"p":0.153,"q":1.153,"m":12.929,"r":-0.090},{"p":0.155,"q":1.155,"m":12.998,"r":-0.020},{"p":0.158,"q":1.158,"m":12.972,"r":-0.045},{"p":0.160,"q":1.160,"m":12.942,"r":-0.075},{"p":0.162,"q":1.162,"m":12.986,"r":-0.030},{"p":0.165,"q":1.165,"m":12.955,"r":-0.060},{"p":0.167,"q":1.167,"m":13.010,"r":-0.005},
{"p":0.170,"q":1.170,"m":12.974,"r":-0.040},{"p":0.173,"q":1.173,"m":12.938,"r":-0.075},{"p":0.175,"q":1.175,"m":13.002,"r":-0.010},{"p":0.179,"q":1.179,"m":12.955,"r":-0.055},{"p":0.180,"q":1.180,"m":12.980,"r":-0.030},{"p":0.183,"q":1.183,"m":12.949,"r":-0.060},{"p":0.185,"q":1.185,"m":12.988,"r":-0.020},{"p":0.188,"q":1.188,"m":12.961,"r":-0.045},{"p":0.190,"q":1.190,"m":12.940,"r":-0.065},{"p":0.193,"q":1.193,"m":12.994,"r":-0.010},
{"p":0.196,"q":1.196,"m":12.952,"r":-0.050},{"p":0.199,"q":1.199,"m":12.971,"r":-0.030},{"p":0.201,"q":1.201,"m":13.000,"r":0.000},{"p":0.203,"q":1.203,"m":12.953,"r":-0.045},{"p":0.207,"q":1.207,"m":12.971,"r":-0.025},{"p":0.210,"q":1.210,"m":12.989,"r":-0.005},{"p":0.211,"q":1.211,"m":12.953,"r":-0.040},{"p":0.213,"q":1.213,"m":13.007,"r":0.015},{"p":0.216,"q":1.216,"m":12.965,"r":-0.025},{"p":0.220,"q":1.220,"m":12.973,"r":-0.015},
{"p":0.223,"q":1.223,"m":13.006,"r":0.020},{"p":0.225,"q":1.225,"m":12.955,"r":-0.030},{"p":0.229,"q":1.229,"m":12.982,"r":0.000},{"p":0.231,"q":1.231,"m":13.015,"r":0.035},{"p":0.233,"q":1.233,"m":12.959,"r":-0.020},{"p":0.235,"q":1.235,"m":12.988,"r":0.010},{"p":0.237,"q":1.237,"m":12.931,"r":-0.045},{"p":0.239,"q":1.239,"m":13.000,"r":0.025},{"p":0.241,"q":1.241,"m":12.963,"r":-0.010},{"p":0.243,"q":1.243,"m":13.002,"r":0.030},
{"p":0.246,"q":1.246,"m":12.975,"r":0.005},{"p":0.249,"q":1.249,"m":12.943,"r":-0.025},{"p":0.251,"q":1.251,"m":12.986,"r":0.020},{"p":0.252,"q":1.252,"m":12.955,"r":-0.010},{"p":0.254,"q":1.254,"m":13.004,"r":0.040},{"p":0.257,"q":1.257,"m":12.962,"r":0.000},{"p":0.259,"q":1.259,"m":12.986,"r":0.025},{"p":0.261,"q":1.261,"m":12.929,"r":-0.030},{"p":0.263,"q":1.263,"m":12.968,"r":0.010},{"p":0.265,"q":1.265,"m":13.007,"r":0.050},
{"p":0.267,"q":1.267,"m":12.950,"r":-0.005},{"p":0.270,"q":1.270,"m":12.984,"r":0.030},{"p":0.271,"q":1.271,"m":12.933,"r":-0.020},{"p":0.273,"q":1.273,"m":12.967,"r":0.015},{"p":0.276,"q":1.276,"m":12.995,"r":0.045},{"p":0.277,"q":1.277,"m":12.940,"r":-0.010},{"p":0.280,"q":1.280,"m":12.973,"r":0.025},{"p":0.281,"q":1.281,"m":13.002,"r":0.055},{"p":0.285,"q":1.285,"m":12.950,"r":0.005},{"p":0.287,"q":1.287,"m":12.974,"r":0.030},
{"p":0.290,"q":1.290,"m":13.003,"r":0.060},{"p":0.291,"q":1.291,"m":12.927,"r":-0.015},{"p":0.293,"q":1.293,"m":12.977,"r":0.035},{"p":0.294,"q":1.294,"m":13.011,"r":0.070},{"p":0.296,"q":1.296,"m":12.955,"r":0.015},{"p":0.298,"q":1.298,"m":12.985,"r":0.045},{"p":0.300,"q":1.300,"m":12.929,"r":-0.010},{"p":0.302,"q":1.302,"m":12.968,"r":0.030},{"p":0.305,"q":1.305,"m":13.002,"r":0.065},{"p":0.307,"q":1.307,"m":12.947,"r":0.010},
{"p":0.309,"q":1.309,"m":12.986,"r":0.050},{"p":0.311,"q":1.311,"m":12.956,"r":0.020},{"p":0.312,"q":1.312,"m":12.995,"r":0.060},{"p":0.314,"q":1.314,"m":12.930,"r":-0.005},{"p":0.317,"q":1.317,"m":12.969,"r":0.035},{"p":0.319,"q":1.319,"m":13.008,"r":0.075},{"p":0.321,"q":1.321,"m":12.943,"r":0.010},{"p":0.322,"q":1.322,"m":12.973,"r":0.040},{"p":0.324,"q":1.324,"m":13.012,"r":0.080},{"p":0.327,"q":1.327,"m":12.952,"r":0.020},
{"p":0.329,"q":1.329,"m":12.987,"r":0.055},{"p":0.331,"q":1.331,"m":12.962,"r":0.030},{"p":0.332,"q":1.332,"m":12.937,"r":0.005},{"p":0.334,"q":1.334,"m":12.991,"r":0.060},{"p":0.337,"q":1.337,"m":12.966,"r":0.035},{"p":0.341,"q":1.341,"m":12.986,"r":0.055},{"p":0.342,"q":1.342,"m":12.951,"r":0.020},{"p":0.344,"q":1.344,"m":13.011,"r":0.080},{"p":0.345,"q":1.345,"m":12.921,"r":-0.010},{"p":0.348,"q":1.348,"m":12.962,"r":0.030},
{"p":0.350,"q":1.350,"m":12.987,"r":0.055},{"p":0.351,"q":1.351,"m":12.937,"r":0.005},{"p":0.353,"q":1.353,"m":12.972,"r":0.040},{"p":0.356,"q":1.356,"m":12.998,"r":0.065},{"p":0.358,"q":1.358,"m":12.959,"r":0.025},{"p":0.360,"q":1.360,"m":13.019,"r":0.085},{"p":0.361,"q":1.361,"m":12.949,"r":0.015},{"p":0.363,"q":1.363,"m":12.980,"r":0.045},{"p":0.366,"q":1.366,"m":13.006,"r":0.070},{"p":0.367,"q":1.367,"m":12.957,"r":0.020},
{"p":0.370,"q":1.370,"m":12.993,"r":0.055},{"p":0.372,"q":1.372,"m":12.934,"r":-0.005},{"p":0.375,"q":1.375,"m":12.975,"r":0.035},{"p":0.377,"q":1.377,"m":13.001,"r":0.060},{"p":0.379,"q":1.379,"m":12.957,"r":0.015},{"p":0.380,"q":1.380,"m":12.987,"r":0.045},{"p":0.382,"q":1.382,"m":12.933,"r":-0.010},{"p":0.385,"q":1.385,"m":12.970,"r":0.025},{"p":0.387,"q":1.387,"m":13.011,"r":0.065},{"p":0.389,"q":1.389,"m":12.977,"r":0.030},
{"p":0.390,"q":1.390,"m":12.948,"r":0.000},{"p":0.391,"q":1.391,"m":12.999,"r":0.050},{"p":0.393,"q":1.393,"m":12.960,"r":0.010},{"p":0.395,"q":1.395,"m":12.981,"r":0.030},{"p":0.398,"q":1.398,"m":12.928,"r":-0.025},{"p":0.400,"q":1.400,"m":12.969,"r":0.015},{"p":0.402,"q":1.402,"m":13.001,"r":0.045},{"p":0.404,"q":1.404,"m":12.942,"r":-0.015},{"p":0.407,"q":1.407,"m":12.980,"r":0.020},{"p":0.409,"q":1.409,"m":12.921,"r":-0.040},
{"p":0.410,"q":1.410,"m":12.962,"r":0.000},{"p":0.413,"q":1.413,"m":12.934,"r":-0.030},{"p":0.415,"q":1.415,"m":12.976,"r":0.010},{"p":0.419,"q":1.419,"m":12.959,"r":-0.010},{"p":0.420,"q":1.420,"m":12.930,"r":-0.040},{"p":0.421,"q":1.421,"m":12.996,"r":0.025},{"p":0.423,"q":1.423,"m":12.953,"r":-0.020},{"p":0.425,"q":1.425,"m":12.919,"r":-0.055},{"p":0.427,"q":1.427,"m":12.976,"r":0.000},{"p":0.430,"q":1.430,"m":12.944,"r":-0.035},
{"p":0.433,"q":1.433,"m":12.972,"r":-0.010},{"p":0.434,"q":1.434,"m":12.923,"r":-0.060},{"p":0.439,"q":1.439,"m":12.963,"r":-0.025},{"p":0.440,"q":1.440,"m":12.934,"r":-0.055},{"p":0.441,"q":1.441,"m":12.990,"r":0.000},{"p":0.444,"q":1.444,"m":12.953,"r":-0.040},{"p":0.446,"q":1.446,"m":12.925,"r":-0.070},{"p":0.449,"q":1.449,"m":12.978,"r":-0.020},{"p":0.450,"q":1.450,"m":12.949,"r":-0.050},{"p":0.453,"q":1.453,"m":12.967,"r":-0.035},
{"p":0.456,"q":1.456,"m":12.940,"r":-0.065},{"p":0.458,"q":1.458,"m":12.992,"r":-0.015},{"p":0.460,"q":1.460,"m":12.964,"r":-0.045},{"p":0.461,"q":1.461,"m":12.935,"r":-0.075},{"p":0.463,"q":1.463,"m":12.982,"r":-0.030},{"p":0.466,"q":1.466,"m":12.965,"r":-0.050},{"p":0.469,"q":1.469,"m":12.939,"r":-0.080},{"p":0.471,"q":1.471,"m":12.976,"r":-0.045},{"p":0.475,"q":1.475,"m":12.960,"r":-0.065},{"p":0.478,"q":1.478,"m":12.999,"r":-0.030},
{"p":0.480,"q":1.480,"m":12.946,"r":-0.085},{"p":0.481,"q":1.481,"m":12.977,"r":-0.055},{"p":0.485,"q":1.485,"m":12.966,"r":-0.070},{"p":0.490,"q":1.490,"m":13.001,"r":-0.040},{"p":0.493,"q":1.493,"m":12.949,"r":-0.095},{"p":0.495,"q":1.495,"m":12.986,"r":-0.060},{"p":0.499,"q":1.499,"m":12.970,"r":-0.080},{"p":0.500,"q":1.500,"m":13.006,"r":-0.045},{"p":0.502,"q":1.502,"m":12.983,"r":-0.070},{"p":0.507,"q":1.507,"m":12.968,"r":-0.090},
{"p":0.509,"q":1.509,"m":13.020,"r":-0.040},{"p":0.510,"q":1.510,"m":12.986,"r":-0.075},{"p":0.513,"q":1.513,"m":12.969,"r":-0.095},{"p":0.515,"q":1.515,"m":13.006,"r":-0.060},{"p":0.516,"q":1.516,"m":13.036,"r":-0.030},{"p":0.518,"q":1.518,"m":12.988,"r":-0.080},{"p":0.521,"q":1.521,"m":13.026,"r":-0.045},{"p":0.523,"q":1.523,"m":12.997,"r":-0.075},{"p":0.525,"q":1.525,"m":12.974,"r":-0.100},{"p":0.526,"q":1.526,"m":13.015,"r":-0.060},
{"p":0.528,"q":1.528,"m":12.996,"r":-0.080},{"p":0.532,"q":1.532,"m":13.015,"r":-0.065},{"p":0.534,"q":1.534,"m":12.986,"r":-0.095},{"p":0.535,"q":1.535,"m":13.037,"r":-0.045},{"p":0.538,"q":1.538,"m":13.004,"r":-0.080},{"p":0.542,"q":1.542,"m":13.017,"r":-0.070},{"p":0.543,"q":1.543,"m":13.048,"r":-0.040},{"p":0.545,"q":1.545,"m":13.000,"r":-0.090},{"p":0.547,"q":1.547,"m":13.026,"r":-0.065},{"p":0.550,"q":1.550,"m":13.048,"r":-0.045},
{"p":0.555,"q":1.555,"m":13.035,"r":-0.060},{"p":0.557,"q":1.557,"m":13.062,"r":-0.035},{"p":0.560,"q":1.560,"m":13.044,"r":-0.055},{"p":0.561,"q":1.561,"m":13.084,"r":-0.015},{"p":0.563,"q":1.563,"m":13.050,"r":-0.050},{"p":0.566,"q":1.566,"m":13.071,"r":-0.030},{"p":0.569,"q":1.569,"m":13.042,"r":-0.060},{"p":0.571,"q":1.571,"m":13.063,"r":-0.040},{"p":0.573,"q":1.573,"m":13.089,"r":-0.015},{"p":0.577,"q":1.577,"m":13.055,"r":-0.050},
{"p":0.579,"q":1.579,"m":13.076,"r":-0.030},{"p":0.580,"q":1.580,"m":13.102,"r":-0.005},{"p":0.582,"q":1.582,"m":13.052,"r":-0.055},{"p":0.583,"q":1.583,"m":13.082,"r":-0.025},{"p":0.585,"q":1.585,"m":13.113,"r":0.005},{"p":0.587,"q":1.587,"m":13.068,"r":-0.040},{"p":0.590,"q":1.590,"m":13.089,"r":-0.020},{"p":0.592,"q":1.592,"m":13.119,"r":0.010},{"p":0.595,"q":1.595,"m":13.075,"r":-0.035},{"p":0.597,"q":1.597,"m":13.145,"r":0.035},
{"p":0.599,"q":1.599,"m":13.090,"r":-0.020},{"p":0.601,"q":1.601,"m":13.125,"r":0.015},{"p":0.602,"q":1.602,"m":13.165,"r":0.055},{"p":0.604,"q":1.604,"m":13.100,"r":-0.010},{"p":0.606,"q":1.606,"m":13.140,"r":0.030},{"p":0.610,"q":1.610,"m":13.154,"r":0.045},{"p":0.613,"q":1.613,"m":13.179,"r":0.070},{"p":0.615,"q":1.615,"m":13.123,"r":0.015},{"p":0.617,"q":1.617,"m":13.198,"r":0.090},{"p":0.619,"q":1.619,"m":13.148,"r":0.040},
{"p":0.621,"q":1.621,"m":13.168,"r":0.060},{"p":0.622,"q":1.622,"m":13.137,"r":0.030},{"p":0.624,"q":1.624,"m":13.196,"r":0.090},{"p":0.625,"q":1.625,"m":13.161,"r":0.055},{"p":0.628,"q":1.628,"m":13.125,"r":0.020},{"p":0.630,"q":1.630,"m":13.174,"r":0.070},{"p":0.631,"q":1.631,"m":13.138,"r":0.035},{"p":0.634,"q":1.634,"m":13.177,"r":0.075},{"p":0.635,"q":1.635,"m":13.152,"r":0.050},{"p":0.638,"q":1.638,"m":13.115,"r":0.015},
{"p":0.640,"q":1.640,"m":13.159,"r":0.060},{"p":0.641,"q":1.641,"m":13.178,"r":0.080},{"p":0.643,"q":1.643,"m":13.127,"r":0.030},{"p":0.646,"q":1.646,"m":13.150,"r":0.055},{"p":0.647,"q":1.647,"m":13.189,"r":0.095},{"p":0.650,"q":1.650,"m":13.132,"r":0.040},{"p":0.651,"q":1.651,"m":13.161,"r":0.070},{"p":0.654,"q":1.654,"m":13.194,"r":0.105},{"p":0.656,"q":1.656,"m":13.122,"r":0.035},{"p":0.657,"q":1.657,"m":13.171,"r":0.085},
{"p":0.660,"q":1.660,"m":13.145,"r":0.060},{"p":0.662,"q":1.662,"m":13.183,"r":0.100},{"p":0.665,"q":1.665,"m":13.145,"r":0.065},{"p":0.667,"q":1.667,"m":13.193,"r":0.115},{"p":0.669,"q":1.669,"m":13.156,"r":0.080},{"p":0.670,"q":1.670,"m":13.175,"r":0.100},{"p":0.672,"q":1.672,"m":13.133,"r":0.060},{"p":0.675,"q":1.675,"m":13.210,"r":0.140},{"p":0.677,"q":1.677,"m":13.143,"r":0.075},{"p":0.680,"q":1.680,"m":13.175,"r":0.110},
{"p":0.681,"q":1.681,"m":13.149,"r":0.085},{"p":0.683,"q":1.683,"m":13.116,"r":0.055},{"p":0.686,"q":1.686,"m":13.173,"r":0.115},{"p":0.688,"q":1.688,"m":13.140,"r":0.085},{"p":0.691,"q":1.691,"m":13.112,"r":0.060},{"p":0.692,"q":1.692,"m":13.161,"r":0.110},{"p":0.695,"q":1.695,"m":13.142,"r":0.095},{"p":0.697,"q":1.697,"m":13.110,"r":0.065},{"p":0.699,"q":1.699,"m":13.162,"r":0.120},{"p":0.701,"q":1.701,"m":13.125,"r":0.085},
{"p":0.702,"q":1.702,"m":13.083,"r":0.045},{"p":0.705,"q":1.705,"m":13.125,"r":0.090},{"p":0.708,"q":1.708,"m":13.061,"r":0.030},{"p":0.710,"q":1.710,"m":13.098,"r":0.070},{"p":0.711,"q":1.711,"m":13.047,"r":0.020},{"p":0.713,"q":1.713,"m":13.104,"r":0.080},{"p":0.716,"q":1.716,"m":13.045,"r":0.025},{"p":0.718,"q":1.718,"m":13.067,"r":0.050},{"p":0.720,"q":1.720,"m":13.014,"r":0.000},{"p":0.721,"q":1.721,"m":13.033,"r":0.020},
{"p":0.723,"q":1.723,"m":12.990,"r":-0.020},{"p":0.727,"q":1.727,"m":13.049,"r":0.045},{"p":0.730,"q":1.730,"m":12.990,"r":-0.010},{"p":0.731,"q":1.731,"m":13.014,"r":0.015},{"p":0.734,"q":1.734,"m":12.964,"r":-0.030},{"p":0.739,"q":1.739,"m":12.947,"r":-0.040},{"p":0.740,"q":1.740,"m":12.970,"r":-0.015},{"p":0.742,"q":1.742,"m":12.927,"r":-0.055},{"p":0.744,"q":1.744,"m":12.949,"r":-0.030},{"p":0.746,"q":1.746,"m":12.901,"r":-0.075},
{"p":0.747,"q":1.747,"m":12.925,"r":-0.050},{"p":0.750,"q":1.750,"m":12.936,"r":-0.035},{"p":0.753,"q":1.753,"m":12.887,"r":-0.080},{"p":0.756,"q":1.756,"m":12.912,"r":-0.050},{"p":0.758,"q":1.758,"m":12.869,"r":-0.090},{"p":0.761,"q":1.761,"m":12.890,"r":-0.065},{"p":0.763,"q":1.763,"m":12.852,"r":-0.100},{"p":0.766,"q":1.766,"m":12.903,"r":-0.045},{"p":0.768,"q":1.768,"m":12.860,"r":-0.085},{"p":0.771,"q":1.771,"m":12.881,"r":-0.060},
{"p":0.774,"q":1.774,"m":12.841,"r":-0.095},{"p":0.777,"q":1.777,"m":12.862,"r":-0.070},{"p":0.779,"q":1.779,"m":12.879,"r":-0.050},{"p":0.782,"q":1.782,"m":12.840,"r":-0.085},{"p":0.784,"q":1.784,"m":12.813,"r":-0.110},{"p":0.785,"q":1.785,"m":12.857,"r":-0.065},{"p":0.790,"q":1.790,"m":12.820,"r":-0.095},{"p":0.791,"q":1.791,"m":12.864,"r":-0.050},{"p":0.793,"q":1.793,"m":12.836,"r":-0.075},{"p":0.795,"q":1.795,"m":12.798,"r":-0.110},
{"p":0.800,"q":1.800,"m":12.842,"r":-0.060},{"p":0.801,"q":1.801,"m":12.816,"r":-0.085},{"p":0.804,"q":1.804,"m":12.858,"r":-0.040},{"p":0.809,"q":1.809,"m":12.818,"r":-0.075},{"p":0.810,"q":1.810,"m":12.842,"r":-0.050},{"p":0.811,"q":1.811,"m":12.786,"r":-0.105},{"p":0.813,"q":1.813,"m":12.810,"r":-0.080},{"p":0.814,"q":1.814,"m":12.848,"r":-0.040},{"p":0.820,"q":1.820,"m":12.821,"r":-0.060},{"p":0.821,"q":1.821,"m":12.790,"r":-0.090},
{"p":0.823,"q":1.823,"m":12.808,"r":-0.070},{"p":0.825,"q":1.825,"m":12.827,"r":-0.050},{"p":0.828,"q":1.828,"m":12.779,"r":-0.095},{"p":0.830,"q":1.830,"m":12.832,"r":-0.040},{"p":0.832,"q":1.832,"m":12.785,"r":-0.085},{"p":0.837,"q":1.837,"m":12.811,"r":-0.055},{"p":0.839,"q":1.839,"m":12.754,"r":-0.110},{"p":0.840,"q":1.840,"m":12.828,"r":-0.035},{"p":0.841,"q":1.841,"m":12.788,"r":-0.075},{"p":0.843,"q":1.843,"m":12.812,"r":-0.050},
{"p":0.849,"q":1.849,"m":12.788,"r":-0.070},{"p":0.851,"q":1.851,"m":12.812,"r":-0.045},{"p":0.854,"q":1.854,"m":12.765,"r":-0.090},{"p":0.855,"q":1.855,"m":12.840,"r":-0.015},{"p":0.859,"q":1.859,"m":12.793,"r":-0.060},{"p":0.860,"q":1.860,"m":12.817,"r":-0.035},{"p":0.862,"q":1.862,"m":12.757,"r":-0.095},{"p":0.865,"q":1.865,"m":12.801,"r":-0.050},{"p":0.867,"q":1.867,"m":12.830,"r":-0.020},{"p":0.870,"q":1.870,"m":12.779,"r":-0.070},
{"p":0.871,"q":1.871,"m":12.819,"r":-0.030},{"p":0.873,"q":1.873,"m":12.848,"r":0.000},{"p":0.875,"q":1.875,"m":12.788,"r":-0.060},{"p":0.880,"q":1.880,"m":12.806,"r":-0.040},{"p":0.881,"q":1.881,"m":12.831,"r":-0.015},{"p":0.883,"q":1.883,"m":12.796,"r":-0.050},{"p":0.886,"q":1.886,"m":12.861,"r":0.015},{"p":0.889,"q":1.889,"m":12.836,"r":-0.010},{"p":0.890,"q":1.890,"m":12.886,"r":0.040},{"p":0.891,"q":1.891,"m":12.816,"r":-0.030},
{"p":0.893,"q":1.893,"m":12.846,"r":0.000},{"p":0.896,"q":1.896,"m":12.877,"r":0.030},{"p":0.899,"q":1.899,"m":12.862,"r":0.015},{"p":0.900,"q":1.900,"m":12.907,"r":0.060},{"p":0.902,"q":1.902,"m":12.853,"r":0.005},{"p":0.904,"q":1.904,"m":12.893,"r":0.045},{"p":0.907,"q":1.907,"m":12.919,"r":0.070},{"p":0.909,"q":1.909,"m":12.880,"r":0.030},{"p":0.910,"q":1.910,"m":12.910,"r":0.060},{"p":0.911,"q":1.911,"m":12.860,"r":0.010},
{"p":0.913,"q":1.913,"m":12.901,"r":0.050},{"p":0.916,"q":1.916,"m":12.937,"r":0.085},{"p":0.918,"q":1.918,"m":12.887,"r":0.035},{"p":0.921,"q":1.921,"m":12.908,"r":0.055},{"p":0.923,"q":1.923,"m":12.950,"r":0.095},{"p":0.927,"q":1.927,"m":12.922,"r":0.065},{"p":0.929,"q":1.929,"m":12.883,"r":0.025},{"p":0.931,"q":1.931,"m":12.935,"r":0.075},{"p":0.932,"q":1.932,"m":12.915,"r":0.055},{"p":0.934,"q":1.934,"m":12.951,"r":0.090},
{"p":0.937,"q":1.937,"m":12.898,"r":0.035},{"p":0.939,"q":1.939,"m":12.924,"r":0.060},{"p":0.941,"q":1.941,"m":12.941,"r":0.075},{"p":0.942,"q":1.942,"m":12.911,"r":0.045},{"p":0.945,"q":1.945,"m":12.884,"r":0.015},{"p":0.947,"q":1.947,"m":12.940,"r":0.070},{"p":0.950,"q":1.950,"m":12.918,"r":0.045},{"p":0.952,"q":1.952,"m":12.959,"r":0.085},{"p":0.954,"q":1.954,"m":12.931,"r":0.055},{"p":0.957,"q":1.957,"m":12.903,"r":0.025},
{"p":0.959,"q":1.959,"m":12.959,"r":0.080},{"p":0.960,"q":1.960,"m":12.925,"r":0.045},{"p":0.961,"q":1.961,"m":12.976,"r":0.095},{"p":0.964,"q":1.964,"m":12.949,"r":0.065},{"p":0.967,"q":1.967,"m":12.917,"r":0.030},{"p":0.969,"q":1.969,"m":12.964,"r":0.075},{"p":0.970,"q":1.970,"m":12.940,"r":0.050},{"p":0.971,"q":1.971,"m":12.986,"r":0.095},{"p":0.973,"q":1.973,"m":12.923,"r":0.030},{"p":0.976,"q":1.976,"m":12.961,"r":0.065},
{"p":0.979,"q":1.979,"m":12.948,"r":0.050},{"p":0.980,"q":1.980,"m":12.909,"r":0.010},{"p":0.982,"q":1.982,"m":12.991,"r":0.090},{"p":0.985,"q":1.985,"m":12.964,"r":0.060},{"p":0.987,"q":1.987,"m":12.931,"r":0.025},{"p":0.989,"q":1.989,"m":12.979,"r":0.070},{"p":0.992,"q":1.992,"m":12.957,"r":0.045},{"p":0.993,"q":1.993,"m":12.988,"r":0.075},{"p":0.995,"q":1.995,"m":12.930,"r":0.015},{"p":0.998,"q":1.998,"m":12.958,"r":0.040}
]},
"spacing":29,
"bounds":"flush",
"vconcat":[
{"width":2222,"height":866,
"layer":[
{"data":{"name":"pts"},"mark":{"type":"circle","size":177,"color":"black","opacity":1},
"encoding":{"x":{"field":"p","type":"quantitative","scale":{"domain":[0,2],"nice":false,"zero":false},"axis":{"values":[0,0.25,0.5,0.75,1,1.25,1.5,1.75,2],"labels":false,"title":null}},
"y":{"field":"m","type":"quantitative","scale":{"domain":[12.703,13.243],"reverse":true,"zero":false,"nice":false},"axis":{"values":[12.8,12.9,13.0,13.1,13.2],"format":".1f","title":"I-band magnitude","titlePadding":24}}}},
{"data":{"name":"pts"},"mark":{"type":"circle","size":177,"color":"black","opacity":1},
"encoding":{"x":{"field":"q","type":"quantitative","scale":{"domain":[0,2],"nice":false,"zero":false},"axis":{"values":[0,0.25,0.5,0.75,1,1.25,1.5,1.75,2],"labels":false,"title":null}},
"y":{"field":"m","type":"quantitative","scale":{"domain":[12.703,13.243],"reverse":true,"zero":false,"nice":false},"axis":{"values":[12.8,12.9,13.0,13.1,13.2],"format":".1f","title":"I-band magnitude","titlePadding":24}}}},
{"data":{"name":"model"},"mark":{"type":"line","color":"#ff0000","strokeWidth":16,"interpolate":"monotone"},
"encoding":{"x":{"field":"p","type":"quantitative","scale":{"domain":[0,2],"nice":false,"zero":false},"axis":{"values":[0,0.25,0.5,0.75,1,1.25,1.5,1.75,2],"labels":false,"title":null}},
"y":{"field":"m","type":"quantitative","scale":{"domain":[12.703,13.243],"reverse":true,"zero":false,"nice":false},"axis":{"values":[12.8,12.9,13.0,13.1,13.2],"format":".1f","title":"I-band magnitude","titlePadding":24}}}}
]},
{"width":2222,"height":288,
"layer":[
{"data":{"name":"pts"},"mark":{"type":"circle","size":177,"color":"black","opacity":1},
"encoding":{"x":{"field":"p","type":"quantitative","scale":{"domain":[0,2],"nice":false,"zero":false},"axis":{"values":[0,0.25,0.5,0.75,1,1.25,1.5,1.75,2],"format":".2f","title":"Orbital phase","labelPadding":6,"titlePadding":16}},
"y":{"field":"r","type":"quantitative","scale":{"domain":[-0.193,0.171],"reverse":true,"zero":false,"nice":false},"axis":{"values":[-0.1,0,0.1],"format":".1f","title":"ΔI (mag)","titlePadding":15}}}},
{"data":{"name":"pts"},"mark":{"type":"circle","size":177,"color":"black","opacity":1},
"encoding":{"x":{"field":"q","type":"quantitative","scale":{"domain":[0,2],"nice":false,"zero":false},"axis":{"values":[0,0.25,0.5,0.75,1,1.25,1.5,1.75,2],"format":".2f","title":"Orbital phase","labelPadding":6,"titlePadding":16}},
"y":{"field":"r","type":"quantitative","scale":{"domain":[-0.193,0.171],"reverse":true,"zero":false,"nice":false},"axis":{"values":[-0.1,0,0.1],"format":".1f","title":"ΔI (mag)","titlePadding":15}}}},
{"data":{"values":[{}]},"mark":{"type":"rule","color":"#ff0000","strokeWidth":5,"strokeDash":[20,9]},
"encoding":{"y":{"datum":0,"type":"quantitative","scale":{"domain":[-0.193,0.171],"reverse":true,"zero":false,"nice":false},"axis":{"values":[-0.1,0,0.1],"format":".1f","title":"ΔI (mag)","titlePadding":15}}}}
]}
]
}
